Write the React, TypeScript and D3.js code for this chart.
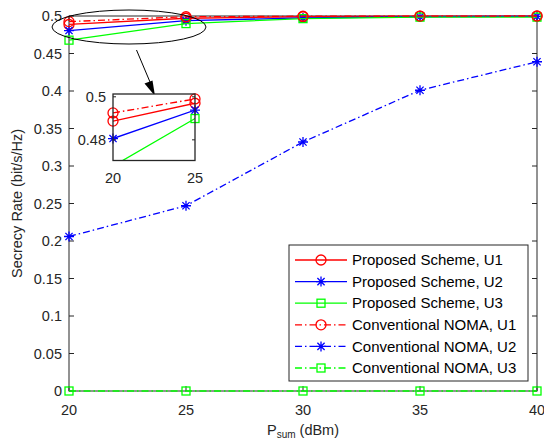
import React from "react";
import * as d3 from "d3";

const xValues = [20, 25, 30, 35, 40];
const proposedU1 = [0.4887, 0.4970, 0.4990, 0.4997, 0.4999];
const proposedU2 = [0.4806, 0.4938, 0.4975, 0.4990, 0.4995];
const proposedU3 = [0.4678, 0.4899, 0.4965, 0.4985, 0.4985];
const conventionalU1 = [0.4925, 0.4990, 0.4997, 0.4999, 0.5];
const conventionalU2 = [0.206, 0.247, 0.332, 0.401, 0.439];
const conventionalU3 = [0, 0, 0, 0, 0];

const xTicks = [20, 25, 30, 35, 40];
const yTicks = [0, 0.05, 0.1, 0.15, 0.2, 0.25, 0.3, 0.35, 0.4, 0.45, 0.5];
const insetXTicks = [20, 25];
const insetYTicks = [0.48, 0.5];

type Series = { name: string; values: number[]; color: string; dashed: boolean; marker: "o" | "*" | "s" };

const series: Series[] = [
  { name: "Proposed Scheme, U1", values: proposedU1, color: "#ff0000", dashed: false, marker: "o" },
  { name: "Proposed Scheme, U2", values: proposedU2, color: "#0000ff", dashed: false, marker: "*" },
  { name: "Proposed Scheme, U3", values: proposedU3, color: "#00ff00", dashed: false, marker: "s" },
  { name: "Conventional NOMA, U1", values: conventionalU1, color: "#ff0000", dashed: true, marker: "o" },
  { name: "Conventional NOMA, U2", values: conventionalU2, color: "#0000ff", dashed: true, marker: "*" },
  { name: "Conventional NOMA, U3", values: conventionalU3, color: "#00ff00", dashed: true, marker: "s" },
];

const FONT = "'Liberation Sans', Arial, sans-serif";
const AX = "#262626";
const DASH = "7,3,1.5,3";

function Marker({ type, x, y, color }: { type: string; x: number; y: number; color: string }) {
  if (type === "o") return <circle cx={x} cy={y} r={5} fill="none" stroke={color} strokeWidth={1.3} />;
  if (type === "s") return <rect x={x - 4} y={y - 4} width={8} height={8} fill="none" stroke={color} strokeWidth={1.3} />;
  const r = 5;
  const d = r * 0.72;
  return (
    <path
      d={`M${x - r},${y}L${x + r},${y}M${x},${y - r}L${x},${y + r}M${x - d},${y - d}L${x + d},${y + d}M${x - d},${y + d}L${x + d},${y - d}`}
      stroke={color}
      strokeWidth={1.3}
      fill="none"
    />
  );
}

export default function App() {
  const W = 544, H = 440;
  const L = 69, R = 537, T = 16, B = 391;
  const x = d3.scaleLinear().domain([20, 40]).range([L, R]);
  const y = d3.scaleLinear().domain([0, 0.5]).range([B, T]);

  const IL = 113, IR = 195, IT = 94, IB = 160.5;
  const ix = d3.scaleLinear().domain([20, 25]).range([IL, IR]);
  const iy = d3.scaleLinear().domain([0.4704, 0.5013]).range([IB, IT]);

  const line = (sx: any, sy: any) =>
    d3.line<number>().x((_, i) => sx(xValues[i])).y((v) => sy(v));

  const tick = 5;

  const legL = 289, legR = 528, legT = 245, legB = 381;
  const rowY0 = 260, rowDy = 21.6;

  return (
    <svg width={W} height={H} style={{ position: "absolute", left: 0, top: 0, background: "#fff" }} fontFamily={FONT}>
      <rect x={0} y={0} width={W} height={H} fill="#fff" />
      <rect x={L} y={T} width={R - L} height={B - T} fill="#fff" stroke="none" />
      {xTicks.map((t) => (
        <g key={"xt" + t}>
          <line x1={x(t)} x2={x(t)} y1={B} y2={B - tick} stroke={AX} />
          <line x1={x(t)} x2={x(t)} y1={T} y2={T + tick} stroke={AX} />
          <text x={x(t)} y={415} textAnchor="middle" fontSize={14.5} fill={AX}>{t}</text>
        </g>
      ))}
      {yTicks.map((t) => (
        <g key={"yt" + t}>
          <line x1={L} x2={L + tick} y1={y(t)} y2={y(t)} stroke={AX} />
          <line x1={R} x2={R - tick} y1={y(t)} y2={y(t)} stroke={AX} />
          <text x={62} y={y(t)} dy="0.35em" textAnchor="end" fontSize={14.5} fill={AX}>{String(t)}</text>
        </g>
      ))}
      <rect x={L} y={T} width={R - L} height={B - T} fill="none" stroke={AX} strokeWidth={1} />

      <text x={303} y={434.5} textAnchor="middle" fontSize={14.5} fill={AX}>
        P<tspan fontSize={10} dy={3}>sum</tspan><tspan dy={-3}> (dBm)</tspan>
      </text>
      <text transform={`translate(22,${(T + B) / 2}) rotate(-90)`} textAnchor="middle" fontSize={14.5} fill={AX}>
        Secrecy Rate (bit/s/Hz)
      </text>

      {series.map((s) => (
        <g key={s.name}>
          <path d={line(x, y)(s.values) || ""} fill="none" stroke={s.color} strokeWidth={1.3} strokeDasharray={s.dashed ? DASH : undefined} />
          {s.values.map((v, i) => (
            <Marker key={i} type={s.marker} x={x(xValues[i])} y={y(v)} color={s.color} />
          ))}
        </g>
      ))}

      <ellipse cx={129} cy={27} rx={77} ry={17} fill="none" stroke="#000" strokeWidth={1} />
      <line x1={136.5} y1={50} x2={150} y2={82} stroke="#000" strokeWidth={1} />
      <path d="M155,96 L144.5,83.5 L152.5,80.5 Z" fill="#000" />

      <rect x={legL} y={legT} width={legR - legL} height={legB - legT} fill="#fff" stroke={AX} strokeWidth={1} />
      {series.map((s, i) => {
        const ry = rowY0 + i * rowDy;
        return (
          <g key={"leg" + s.name}>
            <line x1={295} x2={347} y1={ry} y2={ry} stroke={s.color} strokeWidth={1.3} strokeDasharray={s.dashed ? DASH : undefined} />
            <Marker type={s.marker} x={321} y={ry} color={s.color} />
            <text x={352} y={ry} dy="0.35em" fontSize={15} fill="#000">{s.name}</text>
          </g>
        );
      })}

      <defs>
        <clipPath id="insetClip">
          <rect x={IL} y={IT} width={IR - IL} height={IB - IT} />
        </clipPath>
      </defs>
      <rect x={IL} y={IT} width={IR - IL} height={IB - IT} fill="#fff" />
      <g clipPath="url(#insetClip)">
        {series.map((s) => (
          <path key={"il" + s.name} d={line(ix, iy)(s.values) || ""} fill="none" stroke={s.color} strokeWidth={1.3} strokeDasharray={s.dashed ? DASH : undefined} />
        ))}
      </g>
      {series.map((s) => (
        <g key={"im" + s.name}>
          {s.values.map((v, i) => {
            const xv = xValues[i];
            if (xv > 25) return null;
            const yy = iy(v);
            if (yy > IB + 1 || yy < IT - 1) return null;
            return <Marker key={i} type={s.marker} x={ix(xv)} y={yy} color={s.color} />;
          })}
        </g>
      ))}
      {insetYTicks.map((t) => (
        <g key={"iyt" + t}>
          <line x1={IL} x2={IL + 3} y1={iy(t)} y2={iy(t)} stroke={AX} />
          <line x1={IR} x2={IR - 3} y1={iy(t)} y2={iy(t)} stroke={AX} />
          <text x={106} y={iy(t)} dy="0.35em" textAnchor="end" fontSize={14.5} fill={AX}>{String(t)}</text>
        </g>
      ))}
      {insetXTicks.map((t) => (
        <g key={"ixt" + t}>
          <text x={ix(t)} y={183} textAnchor="middle" fontSize={14.5} fill={AX}>{t}</text>
        </g>
      ))}
      <rect x={IL} y={IT} width={IR - IL} height={IB - IT} fill="none" stroke={AX} strokeWidth={1.3} />
    </svg>
  );
}
